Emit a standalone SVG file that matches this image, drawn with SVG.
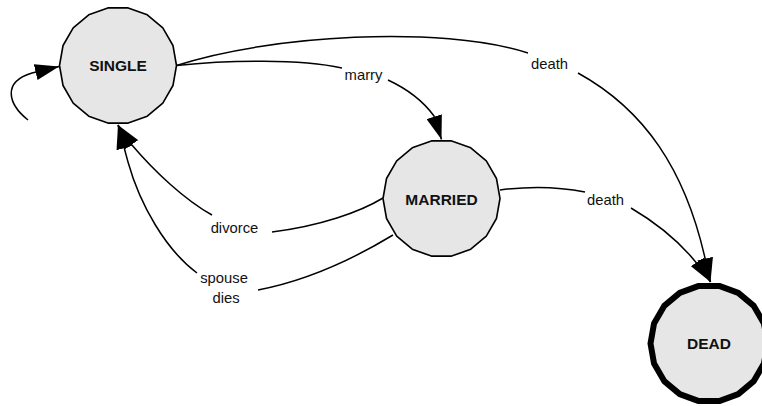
<svg xmlns="http://www.w3.org/2000/svg" xmlns:xlink="http://www.w3.org/1999/xlink" width="762" height="406" viewBox="0 0 762 406">
<style>
.node{fill:#e6e6e6;stroke:#000;stroke-width:1.6;stroke-linejoin:round}
.final{stroke-width:6}
.nlabel{font-family:"Liberation Sans",Arial,sans-serif;font-size:15.5px;font-weight:bold;fill:#111;text-anchor:middle}
.edge{fill:none;stroke:#000;stroke-width:1.5}
.arrow{marker-end:url(#ah)}
.elabel{font-family:"Liberation Sans",Arial,sans-serif;font-size:14.8px;fill:#111;text-anchor:middle}
</style>
<defs>
<polygon id="poly18" points="58.5,0 54.97,20.01 44.81,37.6 29.25,50.66 10.16,57.61 -10.16,57.61 -29.25,50.66 -44.81,37.6 -54.97,20.01 -58.5,0 -54.97,-20.01 -44.81,-37.6 -29.25,-50.66 -10.16,-57.61 10.16,-57.61 29.25,-50.66 44.81,-37.6 54.97,-20.01"/>
<marker id="ah" viewBox="0 0 24 16" refX="24" refY="8" markerWidth="24" markerHeight="16" orient="auto" markerUnits="userSpaceOnUse">
<path d="M0,0 L24,8 L0,16 Z" fill="#000"/>
</marker>
</defs>
<g id="connectors">
<path class="edge arrow" d="M28,120 C8,104 2,82 32,73 L59,66.5"/>
<path class="edge" d="M176.5,65.5 C230,60 300,59 342,68"/>
<path class="edge arrow" d="M388,80 Q418,94 434,116 L441.5,139.5"/>
<path class="edge" d="M176.5,65.5 C270,35 440,25 528,53"/>
<path class="edge arrow" d="M578,73 C645,110 685,170 705,258 L710.5,282"/>
<path class="edge" d="M500,190 C530,186 560,187 585,192"/>
<path class="edge arrow" d="M631,208 C660,225 690,250 710.5,282"/>
<path class="edge" d="M383,198 C360,212 320,226 272,232"/>
<path class="edge arrow" d="M212,215 C185,200 155,172 131.7,144.7 L118,125"/>
<path class="edge" d="M393,235 C360,255 310,280 258,290"/>
<path class="edge arrow" d="M197,273 C166,250 140,205 128,162 L118,125"/>
<text class="elabel" x="363.5" y="79.5">marry</text>
<text class="elabel" x="549.5" y="69">death</text>
<text class="elabel" x="605.5" y="204.5">death</text>
<text class="elabel" x="234.5" y="233.3">divorce</text>
<text class="elabel" x="224" y="283">spouse</text>
<text class="elabel" x="226" y="302.5">dies</text>
</g>
<g id="single">
<use xlink:href="#poly18" class="node" transform="translate(118,65.5)"/>
<text class="nlabel" x="118" y="71">SINGLE</text>
</g>
<g id="married">
<use xlink:href="#poly18" class="node" transform="translate(441.5,198.5)"/>
<text class="nlabel" x="441.5" y="204.5">MARRIED</text>
</g>
<g id="dead">
<use xlink:href="#poly18" class="node final" transform="translate(709,343.5)"/>
<text class="nlabel" x="709" y="349">DEAD</text>
</g>
</svg>
